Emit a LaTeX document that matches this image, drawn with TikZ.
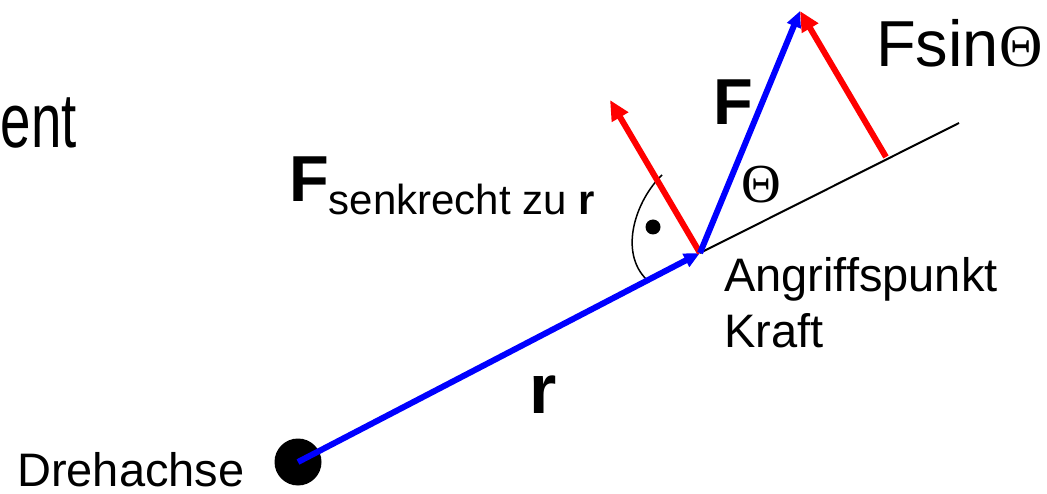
\documentclass[tikz,border=0pt]{standalone}
\usepackage{fontspec}
\setmainfont{Liberation Sans}
\newfontfamily\thetafont{Liberation Serif}
\usetikzlibrary{arrows.meta}

\begin{document}
\begin{tikzpicture}[x=1pt, y=-1pt,
	label/.style={anchor=base west, inner sep=0pt},
	bluevec/.style={line width=6pt, blue},
	redvec/.style={line width=6pt, red, -{Triangle[length=20pt, width=18pt]}}]
	\useasboundingbox (0,0) rectangle (1047,494);

	\coordinate (p) at (700,253);
	\coordinate (tip) at (800,11);
	\coordinate (foot) at (886,157);
	\coordinate (lineend) at (959,123);
	\coordinate (perp) at (610,100);
	\coordinate (arcstart) at (662,175);
	\coordinate (arcend) at (647,280);

	\node (axis) [circle, fill=black, inner sep=0pt, minimum size=47pt] at (298,462) {};

	\draw [line width=2pt, black] (p) -- (lineend);

	\draw [line width=1.5pt] (arcstart) .. controls (636,200) and (618,252) .. (arcend);
	\fill (653,227) circle (7.5pt);

	\draw [bluevec, -{Triangle[length=16pt, width=14pt]}] (axis.center) -- (p);
	\draw [redvec] (p) -- (perp);
	\draw [bluevec, -{Triangle[length=16pt, width=14pt]}] (p) -- (tip);
	\draw [redvec] (foot) -- (tip);

	\node (title) [anchor=base east, inner sep=0pt] at (77,148)
		{\fontsize{77}{77}\selectfont\scalebox{0.71}[1]{ent}};

	\node (fsin) [label] at (876,67)
		{\fontsize{65}{65}\selectfont Fsin{\thetafont\fontsize{60}{60}\selectfont Θ}};

	\node (flabel) [label] at (713,125)
		{\fontsize{65}{65}\selectfont\bfseries F};

	\node (theta) [label] at (741,203)
		{\thetafont\fontsize{55}{55}\selectfont Θ};

	\node (fsenk) [label] at (289,202)
		{\fontsize{65}{65}\selectfont\bfseries F\raisebox{-13pt}{\fontsize{42}{42}\selectfont\mdseries senkrecht zu \textbf{r}}};

	\node (angriff) [label, align=left, font=\fontsize{47}{56}\selectfont] at (724,348)
		{Angriffspunkt\\Kraft};

	\node (rlabel) [label] at (529,413)
		{\fontsize{70}{70}\selectfont\bfseries r};

	\node (drehachse) [label, text depth=0pt] at (17,486)
		{\fontsize{47}{47}\selectfont Drehachse};
\end{tikzpicture}
\end{document}
